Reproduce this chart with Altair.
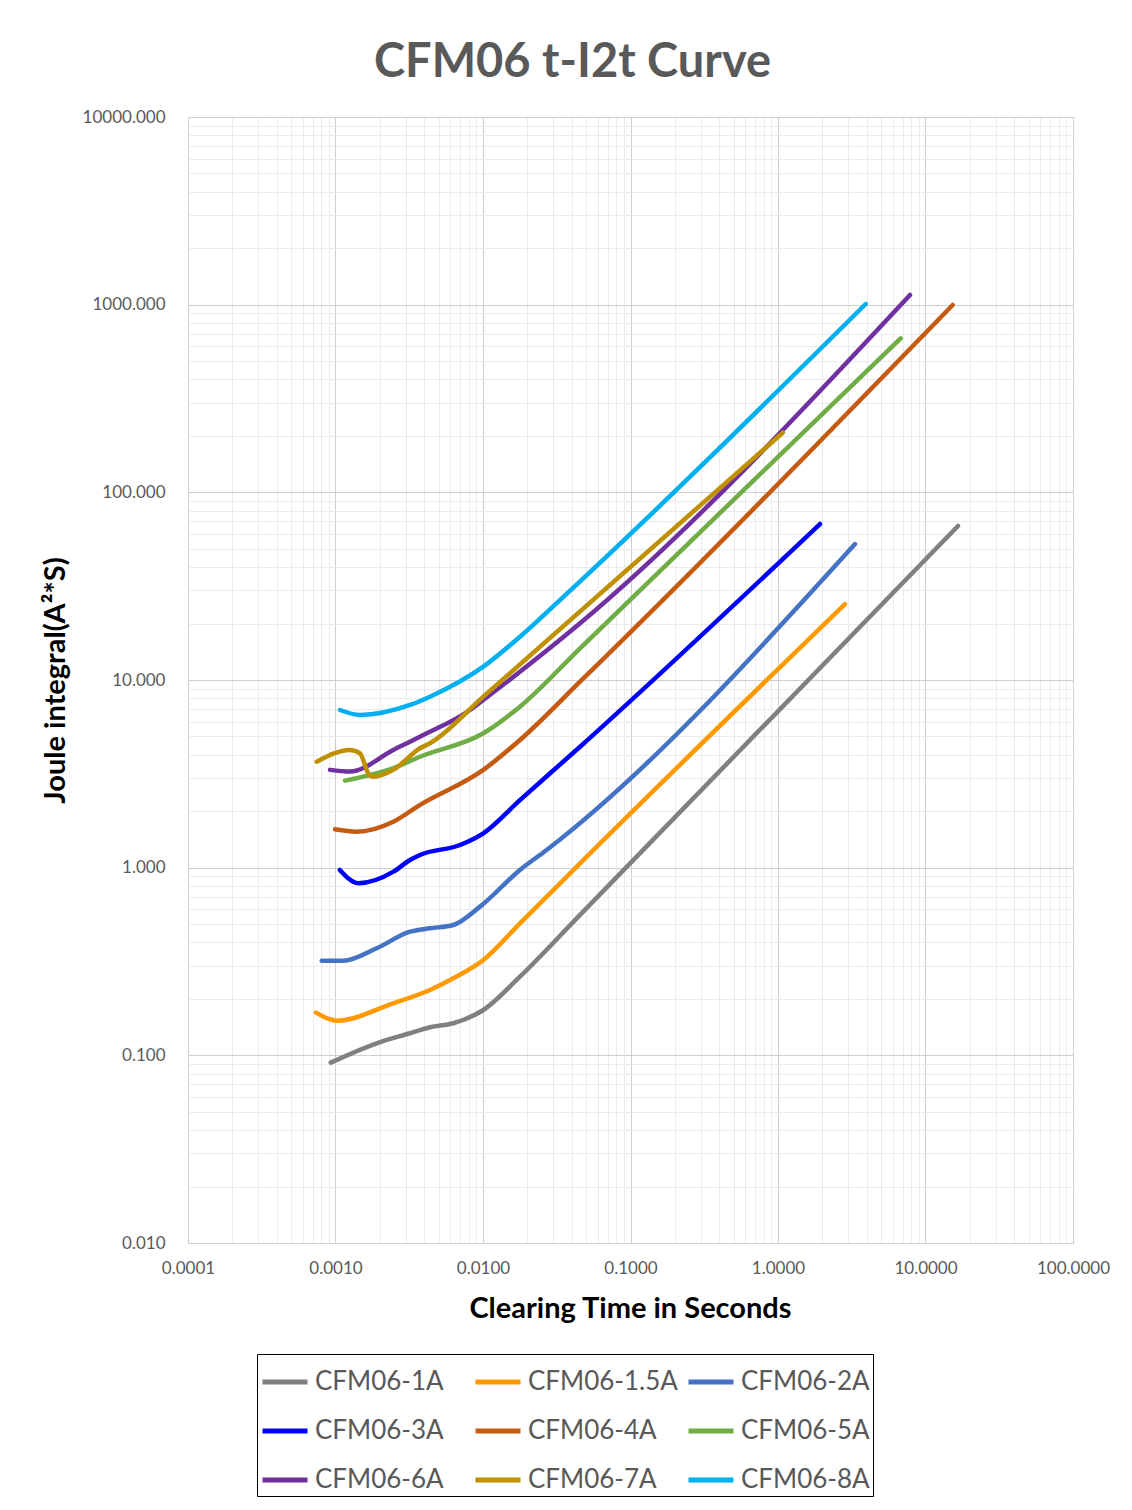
import altair as alt
import pandas as pd

FONT = "Lato"

series_names = ["CFM06-1A", "CFM06-1.5A", "CFM06-2A", "CFM06-3A", "CFM06-4A",
                "CFM06-5A", "CFM06-6A", "CFM06-7A", "CFM06-8A"]
series_colors = ["#808080", "#FF9900", "#4472C4", "#0000FF", "#C55A11",
                 "#70AD47", "#7030A0", "#BF9000", "#00B0F0"]

t_1A = [0.000928, 0.0019, 0.0032, 0.00437, 0.00629, 0.01005, 0.0178, 0.0455, 16.6]
i_1A = [0.0914, 0.1159, 0.1311, 0.1411, 0.1482, 0.1744, 0.2624, 0.560, 66.2]

t_15A = [0.000738, 0.00102, 0.002465, 0.00437, 0.00629, 0.01005, 0.0178, 0.0455, 2.846]
i_15A = [0.1688, 0.1530, 0.1894, 0.2230, 0.2573, 0.322, 0.505, 1.055, 25.4]

t_2A = [0.000806, 0.00113, 0.0019, 0.0032, 0.00437, 0.00629, 0.00954, 0.0178, 0.027, 3.327]
i_2A = [0.319, 0.319, 0.372, 0.456, 0.475, 0.495, 0.620, 0.972, 1.242, 53.0]

t_3A = [0.00107, 0.00143, 0.00247, 0.0032, 0.00374, 0.00698, 0.01005, 0.0178, 0.0455, 1.926]
i_3A = [0.972, 0.826, 0.952, 1.099, 1.169, 1.321, 1.525, 2.29, 4.41, 67.8]

t_4A = [0.000992, 0.00139, 0.002465, 0.00374, 0.01005, 0.0178, 0.0455, 15.29]
i_4A = [1.601, 1.555, 1.758, 2.16, 3.32, 4.79, 9.79, 996]

t_5A = [0.00116, 0.002465, 0.00374, 0.01005, 0.0178, 0.0455, 6.79]
i_5A = [2.91, 3.39, 3.90, 5.20, 7.21, 14.76, 662]

t_6A = [0.000918, 0.001254, 0.002465, 0.00374, 0.00816, 0.01005, 0.0455, 7.85]
i_6A = [3.32, 3.25, 4.24, 4.99, 6.92, 7.83, 20.05, 1126]

t_7A = [0.000746, 0.001254, 0.001466, 0.001669, 0.001805, 0.002465, 0.00374, 0.00437,
        0.01005, 1.076]
i_7A = [3.67, 4.24, 4.07, 3.18, 3.05, 3.32, 4.33, 4.60, 8.15, 207.9]

t_8A = [0.001073, 0.001466, 0.0032, 0.00437, 0.01005, 0.0178, 0.0316, 3.932]
i_8A = [6.92, 6.51, 7.36, 8.15, 11.78, 17.0, 25.7, 1008]

x_decades = [0.0001, 0.001, 0.01, 0.1, 1, 10, 100]
y_decades = [0.01, 0.1, 1, 10, 100, 1000, 10000]
minor_mult = [1, 2, 3, 4, 5, 6, 7, 8, 9]

x_ticks = [d * m for d in x_decades[:-1] for m in minor_mult] + [x_decades[-1]]
y_ticks = [d * m for d in y_decades[:-1] for m in minor_mult] + [y_decades[-1]]

all_t = [t_1A, t_15A, t_2A, t_3A, t_4A, t_5A, t_6A, t_7A, t_8A]
all_i = [i_1A, i_15A, i_2A, i_3A, i_4A, i_5A, i_6A, i_7A, i_8A]

rows = []
for name, ts, js in zip(series_names, all_t, all_i):
    for k, (t, j) in enumerate(zip(ts, js)):
        rows.append({"series": name, "t": t, "i2t": j, "order": k})
df = pd.DataFrame(rows)

DEC = "abs(log(datum.value)/LN10 - round(log(datum.value)/LN10)) < 0.001"
grid_color = {"condition": {"test": DEC, "value": "#cfcfcf"}, "value": "#ebebeb"}

x_axis = alt.Axis(
    values=x_ticks,
    title="Clearing Time in Seconds",
    labelExpr="(" + DEC + ") ? format(datum.value, '.4f') : ''",
    gridColor=grid_color,
    domain=False, ticks=False,
    labelFont=FONT, labelFontSize=17, labelColor="#595959",
    labelPadding=17, labelOverlap=False, labelFlush=False,
    titleFont=FONT, titleFontSize=29, titleFontWeight="bold", titleColor="#000000",
    titleX=442, titleY=65, titleBaseline="middle", titleAlign="center",
)
y_axis = alt.Axis(
    values=y_ticks,
    title="Joule integral(A²*S)",
    labelExpr="(" + DEC + ") ? format(datum.value, '.3f') : ''",
    gridColor=grid_color,
    domain=False, ticks=False,
    labelFont=FONT, labelFontSize=17, labelColor="#595959",
    labelPadding=23, labelOverlap=False, labelFlush=False,
    titleFont=FONT, titleFontSize=29, titleFontWeight="bold", titleColor="#000000",
    titleX=-133, titleY=563, titleBaseline="middle", titleAlign="center", titleAngle=-90,
)

legend = alt.Legend(
    orient="none", legendX=69, legendY=1237, columns=3, direction="horizontal", title=None,
    symbolType="stroke", symbolSize=2025, symbolStrokeWidth=5,
    labelFont=FONT, labelFontSize=26, labelColor="#595959", labelOffset=5,
    labelLimit=300, columnPadding=0, rowPadding=11, padding=3,
    strokeColor="#000000", gridAlign="all",
)

chart = alt.Chart(df).mark_line(
    strokeWidth=4.5, strokeCap="round", strokeJoin="round", interpolate="monotone"
).encode(
    x=alt.X("t:Q", scale=alt.Scale(type="log", domain=[0.0001, 100], nice=False), axis=x_axis),
    y=alt.Y("i2t:Q", scale=alt.Scale(type="log", domain=[0.01, 10000], nice=False), axis=y_axis),
    color=alt.Color("series:N", scale=alt.Scale(domain=series_names, range=series_colors),
                    sort=series_names, legend=legend),
    order="order:Q",
).properties(
    width=885, height=1126,
    title=alt.TitleParams("CFM06 t-I2t Curve", font=FONT, fontSize=47, fontWeight="bold",
                          color="#595959", anchor="middle", frame="group", dx=-58, offset=21),
    autosize=alt.AutoSizeParams(type="none"),
    padding={"left": 180, "top": 109, "right": 51, "bottom": 258},
).configure_view(stroke="#cfcfcf").configure(background="white")

chart.save("out.html", embed_options={"renderer": "svg", "actions": False})
